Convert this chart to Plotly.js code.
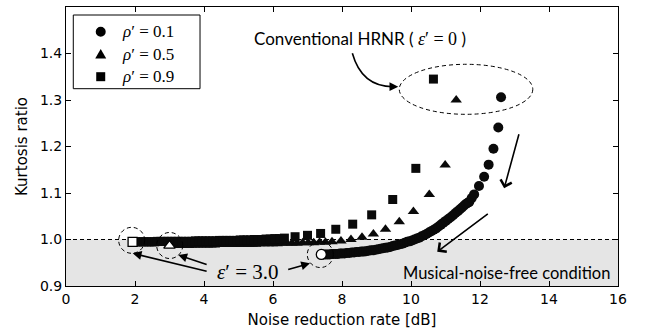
<!DOCTYPE html>
<html><head><meta charset="utf-8">
<script src="https://cdn.plot.ly/plotly-3.0.1.min.js"></script>
<style>html,body{margin:0;padding:0;background:#fff}</style>
</head><body><div id="chart" style="width:651px;height:336px"></div>
<script>
// rho' = 0.1 (circles); first point: epsilon' = 3.0, last point: epsilon' = 0
const rho01_x = [7.40,7.46,7.52,7.58,7.64,7.70,7.76,7.82,7.88,7.94,8.00,8.07,8.14,8.21,8.28,8.35,8.42,8.49,8.56,8.63,8.70,8.77,8.84,8.91,8.98,9.05,9.12,9.19,9.26,9.33,9.40,9.47,9.54,9.61,9.68,9.75,9.82,9.89,9.96,10.03,10.10,10.17,10.24,10.31,10.38,10.45,10.52,10.59,10.66,10.73,10.80,10.87,10.94,11.01,11.08,11.15,11.22,11.29,11.36,11.42,11.48,11.54,11.60,11.65,11.69,11.76,11.83,11.97,12.12,12.25,12.39,12.53,12.61];
const rho01_y = [0.968,0.968,0.968,0.968,0.968,0.969,0.969,0.969,0.969,0.970,0.970,0.970,0.971,0.971,0.972,0.972,0.973,0.973,0.974,0.974,0.975,0.976,0.977,0.977,0.978,0.979,0.980,0.981,0.982,0.983,0.984,0.986,0.987,0.988,0.990,0.991,0.993,0.995,0.996,0.998,1.000,1.002,1.004,1.007,1.009,1.012,1.015,1.018,1.021,1.024,1.028,1.032,1.036,1.040,1.044,1.048,1.052,1.057,1.061,1.065,1.069,1.073,1.077,1.079,1.081,1.089,1.097,1.115,1.135,1.161,1.195,1.241,1.306];
// rho' = 0.5 (triangles)
const rho05_x = [3.00,3.08,3.16,3.24,3.32,3.40,3.48,3.56,3.64,3.72,3.80,3.90,4.00,4.10,4.20,4.30,4.40,4.50,4.60,4.70,4.80,4.90,5.00,5.10,5.20,5.30,5.40,5.50,5.62,5.74,5.86,5.98,6.12,6.26,6.40,6.55,6.70,6.86,7.02,7.18,7.35,7.52,7.71,7.97,8.26,8.58,8.91,9.26,9.66,10.07,10.53,10.99,11.31];
const rho05_y = [0.987,0.987,0.987,0.987,0.987,0.987,0.987,0.987,0.988,0.988,0.988,0.988,0.988,0.988,0.988,0.988,0.989,0.989,0.989,0.989,0.989,0.989,0.990,0.990,0.990,0.990,0.990,0.990,0.991,0.991,0.991,0.991,0.991,0.992,0.992,0.992,0.992,0.993,0.993,0.993,0.994,0.994,0.995,0.997,1.000,1.005,1.012,1.022,1.038,1.060,1.097,1.160,1.300];
// rho' = 0.9 (squares)
const rho09_x = [1.93,2.01,2.09,2.17,2.25,2.33,2.41,2.49,2.57,2.65,2.75,2.85,2.95,3.05,3.15,3.25,3.35,3.45,3.55,3.65,3.75,3.85,3.95,4.05,4.15,4.25,4.35,4.45,4.55,4.65,4.75,4.85,4.95,5.05,5.15,5.25,5.35,5.46,5.57,5.68,5.80,5.92,6.05,6.19,6.33,6.64,7.00,7.38,7.82,8.31,8.86,9.47,10.14,10.65];
const rho09_y = [0.995,0.995,0.995,0.995,0.995,0.995,0.995,0.995,0.995,0.996,0.996,0.996,0.996,0.996,0.996,0.996,0.996,0.996,0.996,0.996,0.997,0.997,0.997,0.997,0.997,0.997,0.997,0.998,0.998,0.998,0.998,0.998,0.998,0.999,0.999,0.999,0.999,1.000,1.000,1.000,1.001,1.001,1.002,1.002,1.003,1.006,1.009,1.013,1.022,1.033,1.053,1.086,1.153,1.345];
const seriesNames = ['<i>ρ</i>′ = 0.1','<i>ρ</i>′ = 0.5','<i>ρ</i>′ = 0.9'];
const xTicks = [0,2,4,6,8,10,12,14,16];
const yTicks = [0.9,1.0,1.1,1.2,1.3,1.4,1.5];

const SERIF = '"Liberation Serif", "DejaVu Serif", serif';
const SANS = 'Lato, "Open Sans", sans-serif';
const AX = '"DejaVu Sans", sans-serif';

function main(name, xs, ys, sym, size) {
  return {x: xs, y: ys, type: 'scatter', mode: 'markers', name: name, showlegend: false,
    marker: {symbol: sym, size: size, color: '#0a0a0a', line: {width: 0}}};
}
function hollow(xs, ys, sym, size) {
  return {x: [xs[0]], y: [ys[0]], type: 'scatter', mode: 'markers', showlegend: false, hoverinfo: 'skip',
    marker: {symbol: sym, size: size, color: '#fff', line: {color: '#000', width: 1.3}}};
}
const data = [
  main(seriesNames[0], rho01_x, rho01_y, 'circle', 10),
  main(seriesNames[1], rho05_x, rho05_y, 'triangle-up', 10),
  main(seriesNames[2], rho09_x, rho09_y, 'square', 9),
  hollow(rho01_x, rho01_y, 'circle', 10),
  hollow(rho05_x, rho05_y, 'triangle-up', 10),
  hollow(rho09_x, rho09_y, 'square', 9)
];

const dash = '4px,3px';
// legend geometry (paper coords)
const LG = {x0: 0.0132, x1: 0.2428, y0: 0.7072, y1: 0.9713, mx: 0.0629, tx: 0.0978, rows: [0.9115, 0.8315, 0.7502]};
const shapes = [
  {type:'rect', xref:'x', yref:'y', x0:0, x1:16, y0:0.9, y1:1.0, fillcolor:'#e5e5e5', line:{width:0}, layer:'below'},
  {type:'line', xref:'x', yref:'y', x0:0, x1:16, y0:1.0, y1:1.0, line:{color:'#000', width:1, dash:dash}, layer:'below'},
  {type:'circle', xref:'x', yref:'y', x0:9.66, x1:13.53, y0:1.2692, y1:1.3768, line:{color:'#000', width:1, dash:dash}},
  {type:'circle', xref:'x', yref:'y', x0:1.527, x1:2.281, y0:0.9703, y1:1.0262, line:{color:'#000', width:1, dash:dash}},
  {type:'circle', xref:'x', yref:'y', x0:2.629, x1:3.383, y0:0.9591, y1:1.0151, line:{color:'#000', width:1, dash:dash}},
  {type:'circle', xref:'x', yref:'y', x0:6.994, x1:7.748, y0:0.9397, y1:0.9957, line:{color:'#000', width:1, dash:dash}},
  {type:'path', xref:'x', yref:'y', path:'M8.30,1.4004 Q8.58,1.3258 9.55,1.3286', line:{color:'#000', width:1.6}},
  // legend box and symbols
  {type:'rect', xref:'paper', yref:'paper', x0:LG.x0, x1:LG.x1, y0:LG.y0, y1:LG.y1, fillcolor:'#fff', line:{color:'#000', width:1}},
  {type:'circle', xref:'paper', yref:'paper', xsizemode:'pixel', ysizemode:'pixel', xanchor:LG.mx, yanchor:LG.rows[0],
   x0:-5, x1:5, y0:-5, y1:5, fillcolor:'#000', line:{width:0}},
  {type:'path', xref:'paper', yref:'paper', xsizemode:'pixel', ysizemode:'pixel', xanchor:LG.mx, yanchor:LG.rows[1],
   path:'M-5.5,-4.5 L5.5,-4.5 L0,5 Z', fillcolor:'#000', line:{width:0}},
  {type:'rect', xref:'paper', yref:'paper', xsizemode:'pixel', ysizemode:'pixel', xanchor:LG.mx, yanchor:LG.rows[2],
   x0:-4.5, x1:4.5, y0:-4.5, y1:4.5, fillcolor:'#000', line:{width:0}}
];

function arrow(tx, ty, fx, fy, head, sz) {
  return {x: tx, y: ty, ax: fx, ay: fy, xref:'x', yref:'y', axref:'x', ayref:'y', text:'', showarrow:true,
    arrowhead: head, arrowsize: sz, arrowwidth: 1.6, arrowcolor:'#000', standoff: 0};
}
const annotations = [
  {x: 8.52, y: 1.4333, xref:'x', yref:'y', showarrow:false,
   text: 'Conventional HRNR ( <span style="font-family:' + SERIF.replace(/"/g,"'") + ';font-size:18px"><i>ε</i>′ = 0</span> )',
   font:{family:SANS, size:17, color:'#000'}},
  {x: 12.77, y: 0.9273, xref:'x', yref:'y', showarrow:false, text:'Musical-noise-free condition',
   font:{family:SANS, size:16.5, color:'#000'}},
  {x: 5.275, y: 0.930, xref:'x', yref:'y', showarrow:false, text:'<i>ε</i>′ = 3.0',
   font:{family:SERIF, size:21, color:'#000'}},
  arrow(12.70, 1.110, 13.14, 1.2297, 4, 1.4),
  arrow(10.76, 0.9738, 12.27, 1.0576, 4, 1.4),
  arrow(1.933, 0.9703, 4.12, 0.9308, 2, 1.1),
  arrow(3.255, 0.9667, 4.12, 0.9452, 2, 1.1),
  arrow(7.072, 0.9488, 6.397, 0.9344, 2, 1.1),
  {x: 9.632, y: 1.3286, xref:'x', yref:'y', ax: -10, ay: 0, axref:'pixel', ayref:'pixel', text:'', showarrow:true,
   arrowhead: 2, arrowsize: 1.1, arrowwidth: 1.6, arrowcolor:'#000', standoff: 0}
];
seriesNames.forEach((n, i) => annotations.push({x: LG.tx, y: LG.rows[i], xref:'paper', yref:'paper', xanchor:'left',
  yanchor:'middle', showarrow:false, text:n, font:{family:SERIF, size:17, color:'#000'}}));

const layout = {
  width: 651, height: 336,
  margin: {l: 66, r: 33, t: 7, b: 50},
  paper_bgcolor: '#fff', plot_bgcolor: '#fff',
  showlegend: false,
  xaxis: {range:[0,16], tickvals: xTicks, ticktext: xTicks.map(String), ticks:'inside', ticklen:5, tickcolor:'#000',
    showline:true, mirror:'ticks', linecolor:'#000', linewidth:1, showgrid:false, zeroline:false,
    tickfont:{family:AX, size:14, color:'#000'},
    title:{text:'Noise reduction rate [dB]', font:{family:AX, size:15, color:'#000'}, standoff: 8}},
  yaxis: {range:[0.9,1.5], tickvals: yTicks, ticktext: yTicks.map(v => v.toFixed(1)), ticks:'inside', ticklen:5, tickcolor:'#000',
    showline:true, mirror:'ticks', linecolor:'#000', linewidth:1, showgrid:false, zeroline:false,
    tickfont:{family:AX, size:14, color:'#000'},
    title:{text:'Kurtosis ratio', font:{family:AX, size:15, color:'#000'}, standoff: 8}},
  shapes: shapes,
  annotations: annotations
};
Plotly.newPlot('chart', data, layout, {displayModeBar:false, staticPlot:true});
</script>
</body></html>
